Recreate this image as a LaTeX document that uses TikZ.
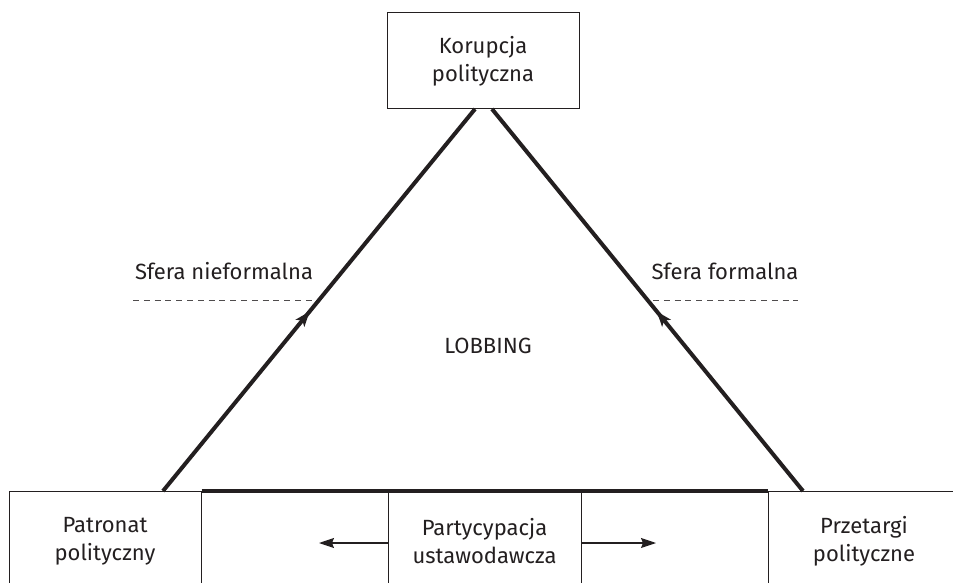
\documentclass[tikz,border=0pt]{standalone}
\usepackage{fontspec}
\setmainfont{Fira Sans}
\usetikzlibrary{arrows.meta,decorations.markings}
\definecolor{ink}{HTML}{231F20}

\begin{document}
\begin{tikzpicture}[x=1pt,y=-1pt,
  every node/.style={text=ink, font=\fontsize{22}{28}\selectfont},
  box/.style={draw=ink, line width=1pt, align=center, inner sep=0pt,
              minimum width=192pt},
  side/.style={color=ink, line width=4pt},
  midarrow/.style={postaction={decorate},
    decoration={markings, mark=at position 0.47 with
      {\arrow{Stealth[length=15pt,width=11pt,inset=3.5pt]}}}},
  harrow/.style={draw=ink, line width=1.1pt,
    -{Stealth[length=15pt,width=10pt,inset=2pt]}},
  sphere/.style={draw=ink!80, line width=0.9pt, dash pattern=on 6pt off 4.8pt}
]
\useasboundingbox (0,0) rectangle (953,583);
\clip (0,0) rectangle (953,583);

% boxes
\node[box, minimum height=96pt] (korup) at (483,61) {Korupcja\\polityczna};
\node[box, minimum height=100pt] (patr) at (105,541) {Patronat\\polityczny};
\node[box, minimum height=100pt, minimum width=193pt] (party) at (484.5,541)
  {Partycypacja\\ustawodawcza};
\node[box, minimum height=100pt] (przet) at (864,541) {Przetargi\\polityczne};

% triangle corners
\coordinate (lv) at (163,491);
\coordinate (rv) at (803,491);
\coordinate (tl) at (475,109);
\coordinate (tr) at (492,109);

% triangle sides and base
\draw[side, midarrow] (lv) -- (tl);
\draw[side, midarrow] (rv) -- (tr);
\draw[side] (patr.north east) -- (przet.north west);

% sphere labels and separators
\node[anchor=base] (sn) at (224,279) {Sfera nieformalna};
\node[anchor=base] (sf) at (725,279) {Sfera formalna};
\coordinate (dl0) at (133,300);
\coordinate (dl1) at (316,300);
\coordinate (dr0) at (653,300);
\coordinate (dr1) at (798,300);
\draw[sphere] (dl0) -- (dl1);
\draw[sphere] (dr0) -- (dr1);

\node[anchor=base] (lob) at (488,353) {LOBBING};

% participation arrows
\coordinate (la) at (319,543);
\coordinate (ra) at (656,543);
\draw[harrow] (party.west |- la) -- (la);
\draw[harrow] (party.east |- ra) -- (ra);
\end{tikzpicture}
\end{document}
